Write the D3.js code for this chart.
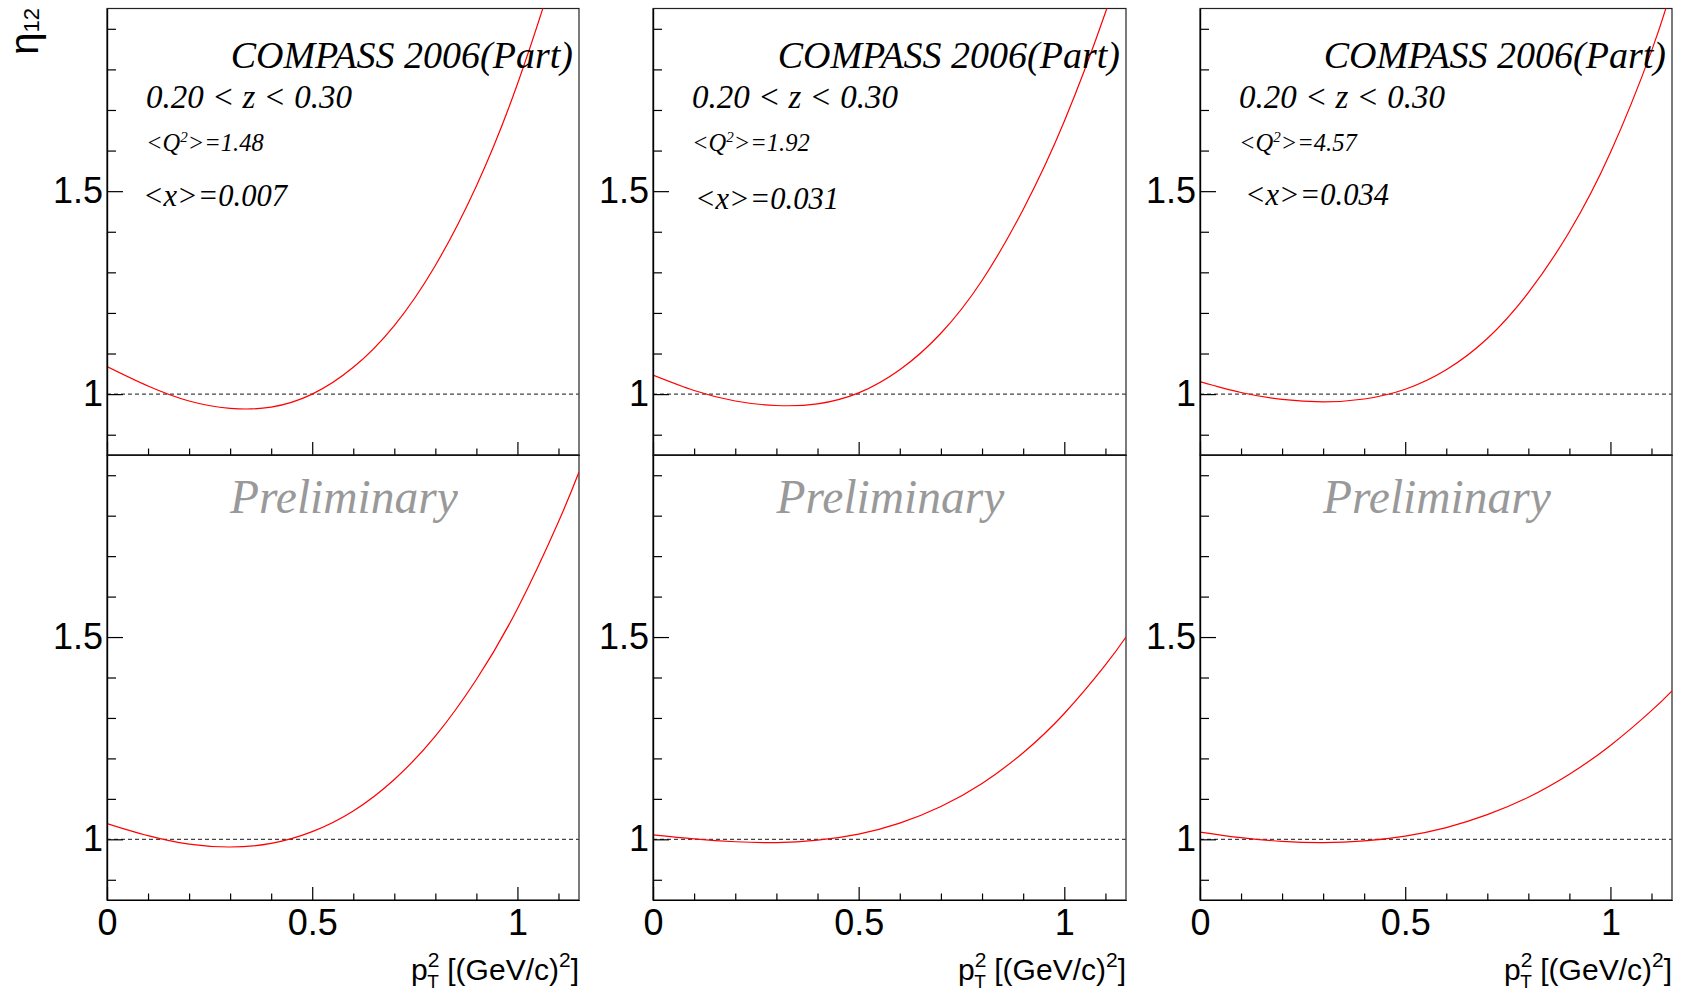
<!DOCTYPE html>
<html><head><meta charset="utf-8">
<script src="https://cdn.jsdelivr.net/npm/d3@7"></script>
<style>body{margin:0;background:#fff;overflow:hidden}</style>
</head><body>
<svg id="c" width="1686" height="993" xmlns="http://www.w3.org/2000/svg"></svg>
<script>
// ---------------- data ----------------
const pT2 = [0, 0.1, 0.2, 0.3, 0.4, 0.5, 0.6, 0.7, 0.8, 0.9, 1.0, 1.1, 1.15];
const etaUpperQ1 = [1.068, 1.020, 0.983, 0.965, 0.968, 1.000, 1.066, 1.169, 1.317, 1.513, 1.764, 2.074, 2.253];
const etaUpperQ2 = [1.047, 1.009, 0.983, 0.972, 0.976, 1.003, 1.060, 1.150, 1.280, 1.455, 1.672, 1.940, 2.100];
const etaUpperQ3 = [1.031, 1.004, 0.987, 0.981, 0.988, 1.012, 1.060, 1.137, 1.250, 1.400, 1.595, 1.845, 2.000];
const etaLowerQ1 = [1.039, 1.009, 0.988, 0.981, 0.990, 1.019, 1.070, 1.148, 1.255, 1.395, 1.570, 1.785, 1.908];
const etaLowerQ2 = [1.011, 1.001, 0.994, 0.992, 0.998, 1.013, 1.040, 1.081, 1.138, 1.214, 1.311, 1.431, 1.500];
const etaLowerQ3 = [1.018, 1.004, 0.995, 0.992, 0.996, 1.008, 1.029, 1.061, 1.104, 1.161, 1.232, 1.318, 1.367];
const zBinLabel = "0.20 < z < 0.30";
const q2Means = ["1.48", "1.92", "4.57"];
const xMeans = ["0.007", "0.031", "0.034"];
const experimentLabel = "COMPASS 2006(Part)";
const watermark = "Preliminary";
const xMajorTicks = [0, 0.5, 1];
const xMinorTicks = [0.1, 0.2, 0.3, 0.4, 0.6, 0.7, 0.8, 0.9, 1.1];
const yMajorTicks = [1, 1.5];
const yMinorTicks = [0.9, 1.1, 1.2, 1.3, 1.4, 1.6, 1.7, 1.8, 1.9];
const xDomain = [0, 1.15];
const yDomain = [0.85, 1.95];
const referenceLevel = 1;

// ---------------- layout ----------------
const svg = d3.select("#c");
const colL = [107, 653, 1200], colR = [579, 1126, 1672];
const rowT = [8.5, 455], rowB = [455, 900];
const xMeanDx = [37, 43, 46], xMeanY = [206, 209, 205];
const sans = "'Liberation Sans', Arial, Helvetica, sans-serif";
const serif = "'Liberation Serif', 'Times New Roman', serif";
const curves = [[etaUpperQ1, etaUpperQ2, etaUpperQ3], [etaLowerQ1, etaLowerQ2, etaLowerQ3]];

const defs = svg.append("defs");

for (let r = 0; r < 2; r++) {
  for (let c = 0; c < 3; c++) {
    const x = d3.scaleLinear().domain(xDomain).range([colL[c], colR[c]]);
    const y = d3.scaleLinear().domain(yDomain).range([rowB[r], rowT[r]]);
    const g = svg.append("g");
    const id = `clip${r}${c}`;
    defs.append("clipPath").attr("id", id).append("rect")
      .attr("x", colL[c]).attr("y", rowT[r]).attr("width", colR[c] - colL[c]).attr("height", rowB[r] - rowT[r]);

    // frame
    g.append("rect").attr("x", colL[c]).attr("y", rowT[r])
      .attr("width", colR[c] - colL[c]).attr("height", rowB[r] - rowT[r])
      .attr("fill", "none").attr("stroke", "#222").attr("stroke-width", 1.2);

    // reference dashed line
    g.append("line").attr("x1", x(xDomain[0])).attr("x2", x(xDomain[1]))
      .attr("y1", y(referenceLevel)).attr("y2", y(referenceLevel))
      .attr("stroke", "#444").attr("stroke-width", 1.2).attr("stroke-dasharray", "4,3");

    // curve
    const pts = pT2.map((p, i) => [p, curves[r][c][i]]);
    g.append("path").datum(pts).attr("clip-path", `url(#${id})`)
      .attr("fill", "none").attr("stroke", "#ff0000").attr("stroke-width", 1.2)
      .attr("d", d3.line().x(d => x(d[0])).y(d => y(d[1])).curve(d3.curveNatural));

    // y axis
    const yMin = g.append("g").attr("transform", `translate(${colL[c]},0)`)
      .call(d3.axisLeft(y).tickValues(yMinorTicks).tickSize(-9).tickSizeOuter(0).tickFormat(""));
    const yMaj = g.append("g").attr("transform", `translate(${colL[c]},0)`)
      .call(d3.axisLeft(y).tickValues(yMajorTicks).tickSize(-16).tickSizeOuter(0).tickPadding(4).tickFormat(d3.format("")));
    // x axis
    const xMin = g.append("g").attr("transform", `translate(0,${rowB[r]})`)
      .call(d3.axisBottom(x).tickValues(xMinorTicks).tickSize(-6.5).tickSizeOuter(0).tickFormat(""));
    const xMaj = g.append("g").attr("transform", `translate(0,${rowB[r]})`)
      .call(d3.axisBottom(x).tickValues(xMajorTicks).tickSize(-13).tickSizeOuter(0).tickPadding(9)
        .tickFormat(r === 1 ? d3.format("") : ""));
    [yMin, yMaj, xMin, xMaj].forEach(a => {
      a.select(".domain").attr("stroke", "#000").attr("stroke-width", 1.2);
      a.selectAll(".tick line").attr("stroke", "#000").attr("stroke-width", 1.2);
      a.selectAll(".tick text").attr("fill", "#000").style("font-family", sans).style("font-size", "36px");
    });
    xMaj.selectAll(".tick text").attr("dy", "0.72em");

    if (r === 0) {
      g.append("text").attr("x", colR[c] - 6).attr("y", 67.5).attr("text-anchor", "end")
        .style("font-family", serif).style("font-style", "italic").style("font-size", "38px").text(experimentLabel);
      g.append("text").attr("x", colL[c] + 39).attr("y", 108)
        .style("font-family", serif).style("font-style", "italic").style("font-size", "33px").text(zBinLabel);
      const q = g.append("text").attr("x", colL[c] + 39).attr("y", 151)
        .style("font-family", serif).style("font-style", "italic").style("font-size", "24.5px");
      q.append("tspan").text("<Q");
      q.append("tspan").attr("dy", -9).style("font-size", "15px").text("2");
      q.append("tspan").attr("dy", 9).text(">=" + q2Means[c]);
      g.append("text").attr("x", colL[c] + xMeanDx[c] - 1).attr("y", xMeanY[c])
        .style("font-family", serif).style("font-style", "italic").style("font-size", "30.5px").text("<x>=" + xMeans[c]);
    } else {
      g.append("text").attr("x", (colL[c] + colR[c]) / 2 + 1).attr("y", 513).attr("text-anchor", "middle")
        .attr("fill", "#999").style("font-family", serif).style("font-style", "italic").style("font-size", "47.5px").text(watermark);
      const t = g.append("text").attr("x", colR[c]).attr("y", 980).attr("text-anchor", "end")
        .style("font-family", sans).style("font-size", "30px");
      t.append("tspan").text("p");
      t.append("tspan").attr("dy", -13).style("font-size", "21px").text("2");
      t.append("tspan").attr("dx", -12).attr("dy", 21).style("font-size", "19px").text("T");
      t.append("tspan").attr("dy", -8).text(" [(GeV/c)");
      t.append("tspan").attr("dy", -13).style("font-size", "21px").text("2");
      t.append("tspan").attr("dy", 13).text("]");
    }
  }
}

// y-axis title eta_12
const yt = svg.append("text").attr("transform", "translate(38,8) rotate(-90)").attr("text-anchor", "end")
  .style("font-family", sans).style("font-size", "40px");
yt.append("tspan").text("η");
yt.append("tspan").attr("dy", 1).style("font-size", "22px").text("12");
</script>
</body></html>
